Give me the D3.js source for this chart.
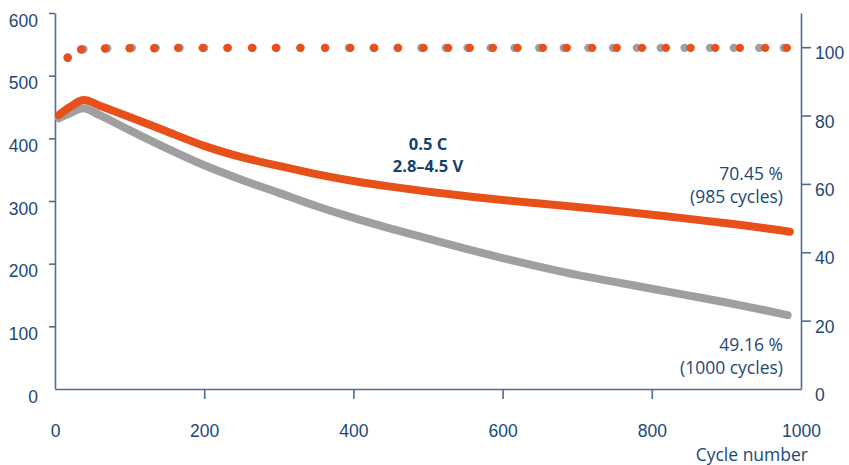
<!DOCTYPE html>
<meta charset="utf-8">
<style>
body { margin: 0; background: #fff; }
svg { font-family: "Open Sans", "Noto Sans", sans-serif; }
.axis path, .axis line { stroke: #4a6e96; stroke-width: 1.6; }
.axis text { fill: #1d4875; font-size: 17.5px; }
.note { fill: #1d4875; font-size: 17.5px; }
.cond { fill: #173f6c; font-size: 16.5px; font-weight: bold; }
</style>
<body>
<script src="https://cdn.jsdelivr.net/npm/d3@7"></script>
<script>

var width = 849, height = 465;

// capacity (left axis) – orange and grey cells
var capCyclesA = [5, 20, 38, 60, 100, 150, 200, 250, 300, 350, 400, 450, 500, 550, 600, 650, 700, 750, 800, 850, 900, 950, 985];
var capValuesA = [437, 450, 461, 452, 434, 411, 388, 370, 356, 343, 332, 323, 315, 308, 301.5, 296, 290.5, 284.5, 278, 271.5, 264.5, 257, 251];
var capCyclesB = [5, 20, 38, 60, 100, 150, 200, 250, 300, 350, 400, 450, 500, 550, 600, 650, 700, 750, 800, 850, 900, 950, 982];
var capValuesB = [432, 440, 448, 437, 413, 384, 357, 334, 313, 292, 273, 256, 240, 224, 209, 195, 182, 171, 160, 149, 138, 126, 118];

// coulombic efficiency (right axis, %)
var ceCyclesA = [17, 35, 67, 100, 133, 165, 198, 231, 264, 296, 329, 362, 396, 428, 460, 494, 527, 556, 587, 620, 654, 686, 720, 753, 787, 819, 852, 885, 918, 952, 981];
var ceValuesA = [96.9, 99.3, 99.6, 99.7, 99.7, 99.8, 99.8, 99.8, 99.8, 99.8, 99.8, 99.8, 99.8, 99.8, 99.8, 99.8, 99.8, 99.8, 99.8, 99.8, 99.8, 99.8, 99.8, 99.8, 99.8, 99.8, 99.8, 99.8, 99.8, 99.8, 99.8];
var ceCyclesB = [17, 38, 70, 103, 135, 167, 200, 232, 265, 297, 329, 362, 394, 427, 459, 491, 524, 553, 584, 616, 649, 682, 715, 748, 780, 812, 844, 878, 910, 944, 977];
var ceValuesB = [97.0, 99.4, 99.7, 99.8, 99.8, 99.8, 99.8, 99.8, 99.8, 99.8, 99.8, 99.8, 99.8, 99.8, 99.8, 99.8, 99.8, 99.8, 99.8, 99.8, 99.8, 99.8, 99.8, 99.8, 99.8, 99.8, 99.8, 99.8, 99.8, 99.8, 99.8];

var xTicks = [0, 200, 400, 600, 800, 1000];
var leftTicks = [0, 100, 200, 300, 400, 500, 600];
var rightTicks = [0, 20, 40, 60, 80, 100];

var orange = "#e8501a", grey = "#9e9f9e";

var x = d3.scaleLinear().domain([0, 1000]).range([55, 801]);
var yL = d3.scaleLinear().domain([0, 600]).range([389, 13]);
var yR = d3.scaleLinear().domain([0, 110]).range([389, 13]);

var svg = d3.select("body").append("svg")
    .attr("width", width)
    .attr("height", height);

// axes
var gx = svg.append("g").attr("class", "axis")
    .attr("transform", "translate(0,389)")
    .call(d3.axisBottom(x).tickValues(xTicks).tickFormat(d3.format("d"))
        .tickSize(10).tickSizeOuter(0).tickPadding(26));
gx.selectAll(".tick line").filter(function(d){ return d == 0 || d == 1000; }).remove();

var gl = svg.append("g").attr("class", "axis")
    .attr("transform", "translate(55,0)")
    .call(d3.axisLeft(yL).tickValues(leftTicks).tickSize(6).tickSizeOuter(0).tickPadding(11));
gl.selectAll(".tick line").filter(function(d){ return d == 0; }).remove();
gl.selectAll(".tick text").attr("dy", "0.75em");

var gr = svg.append("g").attr("class", "axis")
    .attr("transform", "translate(801,0)")
    .call(d3.axisRight(yR).tickValues(rightTicks).tickSize(10).tickSizeOuter(0).tickPadding(4));
gr.selectAll(".tick line").filter(function(d){ return d == 0; }).remove();
gr.selectAll(".tick text").attr("dy", "0.66em");

svg.selectAll(".axis .domain").attr("fill", "none");

// capacity curves
var line = d3.line()
    .x(function(d){ return x(d[0]); })
    .y(function(d){ return yL(d[1]); })
    .curve(d3.curveCatmullRom.alpha(0.5));

svg.append("path")
    .datum(d3.zip(capCyclesB, capValuesB))
    .attr("d", line)
    .attr("fill", "none")
    .attr("stroke", grey)
    .attr("stroke-width", 8)
    .attr("stroke-linecap", "round")
    .attr("stroke-linejoin", "round");

svg.append("path")
    .datum(d3.zip(capCyclesA, capValuesA))
    .attr("d", line)
    .attr("fill", "none")
    .attr("stroke", orange)
    .attr("stroke-width", 8)
    .attr("stroke-linecap", "round")
    .attr("stroke-linejoin", "round");

// efficiency dots
svg.append("g").selectAll("circle")
    .data(d3.zip(ceCyclesB, ceValuesB)).enter()
    .append("circle")
    .attr("cx", function(d){ return x(d[0]); })
    .attr("cy", function(d){ return yR(d[1]); })
    .attr("r", 4.2)
    .attr("fill", grey);

svg.append("g").selectAll("circle")
    .data(d3.zip(ceCyclesA, ceValuesA)).enter()
    .append("circle")
    .attr("cx", function(d){ return x(d[0]); })
    .attr("cy", function(d){ return yR(d[1]); })
    .attr("r", 4.2)
    .attr("fill", orange);

// texts
svg.append("text").attr("class", "cond")
    .attr("x", 428).attr("y", 150).attr("text-anchor", "middle").text("0.5 C");
svg.append("text").attr("class", "cond")
    .attr("x", 428).attr("y", 172).attr("text-anchor", "middle").text("2.8–4.5 V");

svg.append("text").attr("class", "note")
    .attr("x", 783).attr("y", 180).attr("text-anchor", "end").text("70.45 %");
svg.append("text").attr("class", "note")
    .attr("x", 783).attr("y", 203).attr("text-anchor", "end").text("(985 cycles)");

svg.append("text").attr("class", "note")
    .attr("x", 783).attr("y", 351).attr("text-anchor", "end").text("49.16 %");
svg.append("text").attr("class", "note")
    .attr("x", 783).attr("y", 374).attr("text-anchor", "end").text("(1000 cycles)");

svg.append("text")
    .attr("x", 808).attr("y", 461)
    .attr("text-anchor", "end")
    .attr("fill", "#1d4875")
    .style("font-size", "17.5px")
    .text("Cycle number");

</script>
